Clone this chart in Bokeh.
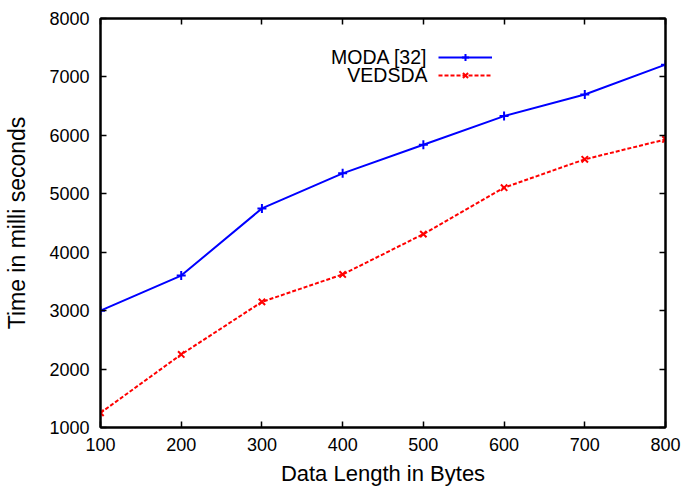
from bokeh.plotting import figure
from bokeh.models import (Range1d, FixedTicker, LinearAxis, Legend, LegendItem,
                          Label, ColumnDataSource, CustomLabelingPolicy)
from bokeh.embed import file_html
from bokeh.resources import INLINE

data_length = [100, 200, 300, 400, 500, 600, 700, 800]
moda = [3000, 3600, 4750, 5350, 5840, 6330, 6700, 7210]
vedsda = [1250, 2250, 3150, 3620, 4310, 5105, 5590, 5930]
x_ticks = [100, 200, 300, 400, 500, 600, 700, 800]
y_ticks = [1000, 2000, 3000, 4000, 5000, 6000, 7000, 8000]
series_names = ["MODA [32]", "VEDSDA"]

FONT = "Liberation Sans"

p = figure(width=684, height=490, output_backend="svg", toolbar_location=None,
           x_range=Range1d(100, 800), y_range=Range1d(1000, 8000),
           min_border_left=100, min_border_right=19, min_border_top=18,
           min_border_bottom=63)
p.xgrid.visible = False
p.ygrid.visible = False
p.outline_line_color = "black"
p.outline_line_width = 2
p.background_fill_color = "white"
p.border_fill_color = "white"

src = ColumnDataSource(dict(x=data_length, moda=moda, vedsda=vedsda))

l1 = p.line("x", "moda", source=src, line_color="#0000ff", line_width=2)
m1 = p.scatter("x", "moda", source=src, marker="cross", size=9,
               line_color="#0000ff", line_width=2)
l2 = p.line("x", "vedsda", source=src, line_color="#ff0000", line_width=2,
            line_dash="4 2")
m2 = p.scatter("x", "vedsda", source=src, marker="x", size=9,
               line_color="#ff0000", line_width=2)

no_labels = CustomLabelingPolicy(code="for (const i of indices) { indices.unset(i) } return indices")


def style_axis(ax, show_labels=True):
    ax.axis_line_color = "black"
    ax.axis_line_width = 2
    ax.major_tick_in = 6
    ax.major_tick_out = 0
    ax.minor_tick_in = 0
    ax.minor_tick_out = 0
    ax.major_tick_line_width = 1.5
    ax.major_tick_line_color = "black"
    ax.major_label_text_font = FONT
    ax.axis_label_text_font = FONT
    ax.axis_label_text_font_style = "normal"
    ax.axis_label_text_color = "black"
    ax.major_label_text_color = "black"
    ax.major_label_text_font_size = "18px"
    if not show_labels:
        ax.major_label_policy = no_labels
        ax.major_label_text_font_size = "0px"
        ax.major_label_standoff = 0


p.xaxis.ticker = FixedTicker(ticks=x_ticks)
p.yaxis.ticker = FixedTicker(ticks=y_ticks)
for ax in p.xaxis + p.yaxis:
    style_axis(ax)
p.xaxis.axis_label = "Data Length in Bytes"
p.xaxis.axis_label_text_font_size = "22px"
p.xaxis.major_label_standoff = 10
p.xaxis.axis_label_standoff = 7
p.yaxis.axis_label = "Time in milli seconds"
p.yaxis.axis_label_text_font_size = "23px"
p.yaxis.major_label_standoff = 11
p.yaxis.axis_label_standoff = 16

top = LinearAxis(ticker=FixedTicker(ticks=x_ticks))
right = LinearAxis(ticker=FixedTicker(ticks=y_ticks))
style_axis(top, False)
style_axis(right, False)
p.add_layout(top, "above")
p.add_layout(right, "right")

legend = Legend(items=[LegendItem(label=" ", renderers=[l1, m1]),
                       LegendItem(label=" ", renderers=[l2, m2])],
                location=(338, 343), orientation="vertical",
                glyph_width=54, glyph_height=18, label_height=18,
                label_width=0, label_standoff=0, spacing=0, padding=0,
                margin=0, border_line_color=None, background_fill_alpha=0,
                label_text_font_size="8px")
p.add_layout(legend)

for i, name in enumerate(series_names):
    p.add_layout(Label(x=327, y=371 - 18 * i, x_units="screen", y_units="screen",
                       text=name, text_align="right", text_baseline="middle",
                       text_font=FONT, text_font_size="19.5px", text_color="black"))

open("out.html", "w").write(file_html(p, INLINE))
